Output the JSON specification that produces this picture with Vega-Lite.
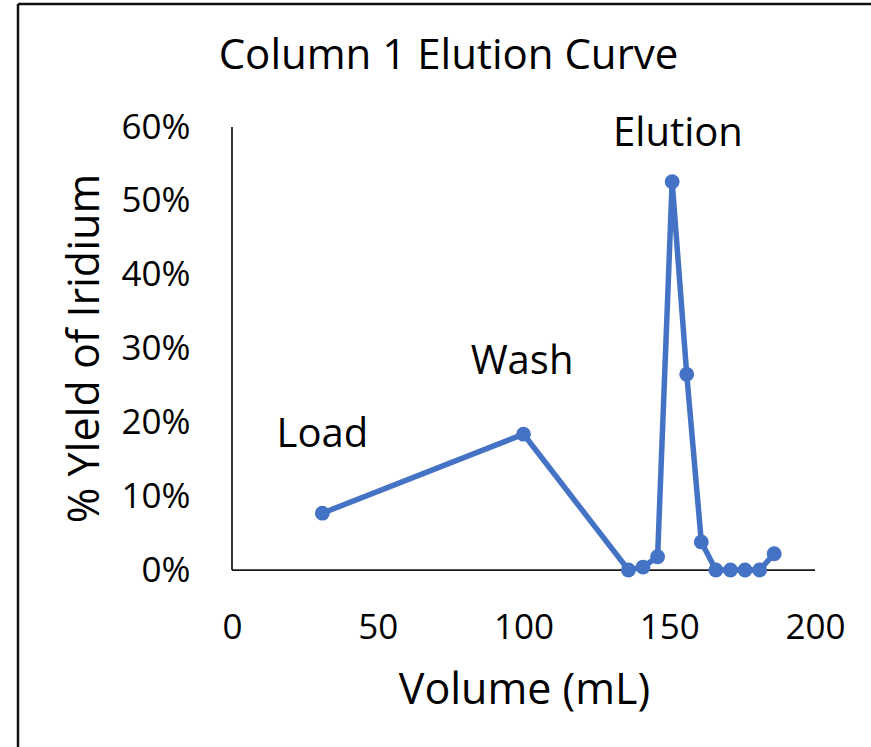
{
  "$schema": "https://vega.github.io/schema/vega-lite/v6.json",
  "width": 853,
  "height": 743,
  "autosize": {"type": "none"},
  "padding": {"left": 18, "top": 4, "right": 0, "bottom": 0},
  "background": "white",
  "title": {
    "text": "Column 1 Elution Curve",
    "anchor": "middle",
    "frame": "group",
    "baseline": "middle",
    "offset": -94,
    "dx": 4,
    "font": "Open Sans",
    "fontSize": 42,
    "fontWeight": "normal",
    "color": "#000000"
  },
  "config": {
    "view": {
      "stroke": "#111111",
      "strokeWidth": 2.5,
      "strokeDash": [853, 1596, 743, 0]
    },
    "axis": {
      "grid": false,
      "domain": false,
      "ticks": false,
      "labelFont": "Open Sans",
      "labelFontSize": 35,
      "labelColor": "#000000",
      "titleFont": "Open Sans",
      "titleFontSize": 43,
      "titleFontWeight": "normal",
      "titleColor": "#000000"
    }
  },
  "datasets": {
    "elution": [
      {"volume": 31, "yield": 0.077},
      {"volume": 100, "yield": 0.184},
      {"volume": 136, "yield": 0.0},
      {"volume": 141, "yield": 0.004},
      {"volume": 146, "yield": 0.018},
      {"volume": 151, "yield": 0.526},
      {"volume": 156, "yield": 0.265},
      {"volume": 161, "yield": 0.038},
      {"volume": 166, "yield": 0.0},
      {"volume": 171, "yield": 0.0},
      {"volume": 176, "yield": 0.0},
      {"volume": 181, "yield": 0.0},
      {"volume": 186, "yield": 0.022}
    ],
    "phases": [
      {"label": "Load", "volume": 31, "yield": 0.183},
      {"label": "Wash", "volume": 99.5, "yield": 0.282},
      {"label": "Elution", "volume": 153, "yield": 0.591}
    ],
    "origin": [{"volume": 0, "yield": 0}]
  },
  "encoding": {
    "x": {
      "field": "volume",
      "type": "quantitative",
      "scale": {"domain": [-73.41, 219.21], "nice": false, "zero": false},
      "axis": {
        "title": "Volume (mL)",
        "orient": "bottom",
        "offset": -177,
        "values": [0, 50, 100, 150, 200],
        "labelPadding": 40,
        "titleX": 506,
        "titleY": 120,
        "titleBaseline": "middle",
        "titleAlign": "center"
      }
    },
    "y": {
      "field": "yield",
      "type": "quantitative",
      "scale": {"domain": [-0.23974, 0.76663], "nice": false, "zero": false},
      "axis": {
        "title": "% Yleld of Iridium",
        "orient": "left",
        "offset": -214,
        "values": [0, 0.1, 0.2, 0.3, 0.4, 0.5, 0.6],
        "format": ".0%",
        "labelPadding": 42,
        "titleX": -147,
        "titleY": 344,
        "titleAngle": -90,
        "titleBaseline": "middle",
        "titleAlign": "center"
      }
    }
  },
  "layer": [
    {
      "data": {"name": "origin"},
      "mark": {"type": "rule", "color": "#1a1a1a", "strokeWidth": 1.75},
      "encoding": {
        "y2": {"datum": 0.6}
      }
    },
    {
      "data": {"name": "origin"},
      "mark": {"type": "rule", "color": "#1a1a1a", "strokeWidth": 1.75},
      "encoding": {
        "x2": {"datum": 200}
      }
    },
    {
      "data": {"name": "elution"},
      "mark": {
        "type": "line",
        "color": "#4472C4",
        "strokeWidth": 5.5,
        "point": {"filled": true, "size": 220, "color": "#4472C4", "opacity": 1}
      }
    },
    {
      "data": {"name": "phases"},
      "mark": {
        "type": "text",
        "font": "Open Sans",
        "fontSize": 40,
        "color": "#000000",
        "align": "center",
        "baseline": "middle"
      },
      "encoding": {
        "text": {"field": "label"}
      }
    }
  ]
}
